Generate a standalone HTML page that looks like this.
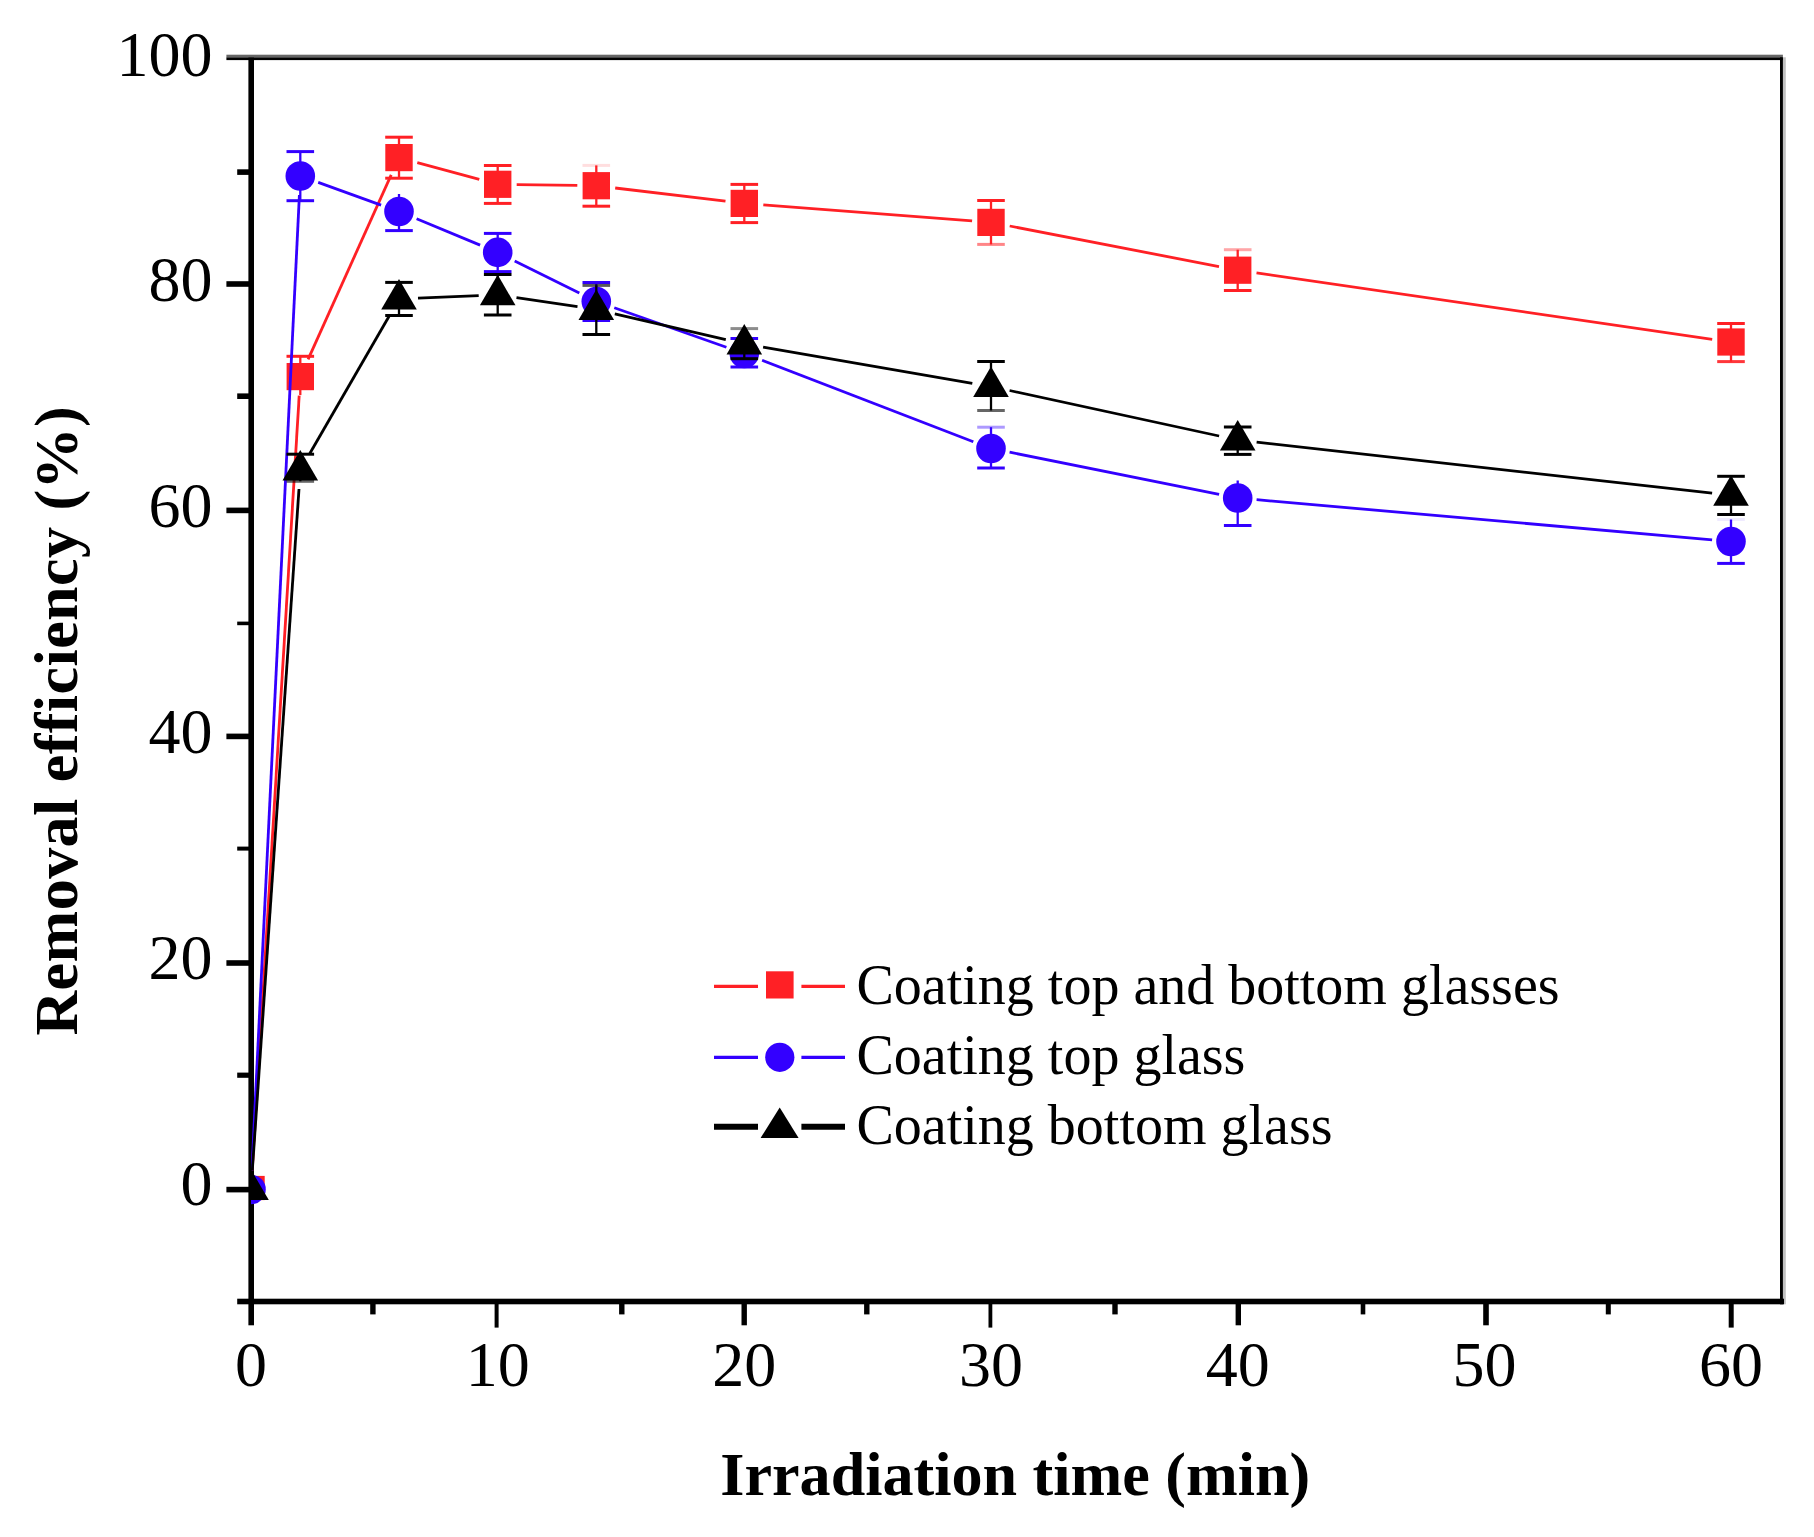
<!DOCTYPE html>
<html lang="en">
<head>
<meta charset="utf-8">
<title>Removal efficiency vs irradiation time</title>
<style>
html,body{margin:0;padding:0;background:#fff;}
body{width:1814px;height:1537px;overflow:hidden;}
svg{display:block;}
</style>
</head>
<body>
<svg width="1814" height="1537" viewBox="0 0 1814 1537">
<defs><clipPath id="plot"><rect x="251" y="40" width="1560" height="1280"/></clipPath></defs>
<rect width="1814" height="1537" fill="#fff"/>
<g><rect x="248.4" y="57.4" width="5.6" height="1267.9" fill="#000"/><rect x="226.4" y="54.7" width="1556.5" height="2.8" fill="#666"/><rect x="226.4" y="57.4" width="1556.5" height="2.7" fill="#000"/><rect x="1782.8" y="57.3" width="3" height="1247" fill="#c0c0c0"/><rect x="1780" y="57.3" width="2.9" height="1247" fill="#000"/><rect x="237.2" y="1298.7" width="1546.8" height="5.6" fill="#000"/><rect x="237.2" y="169.3" width="12.8" height="5.6" fill="#000"/><rect x="226.4" y="281.2" width="23.6" height="5.6" fill="#000"/><rect x="237.2" y="393.4" width="12.8" height="5.6" fill="#000"/><rect x="226.4" y="507.6" width="23.6" height="5.6" fill="#000"/><rect x="237.2" y="621.6" width="12.8" height="3.6" fill="#000"/><rect x="226.4" y="733.6" width="23.6" height="5.6" fill="#000"/><rect x="237.2" y="846.6" width="12.8" height="4" fill="#000"/><rect x="226.4" y="960.2" width="23.6" height="5.6" fill="#000"/><rect x="237.2" y="1072.6" width="12.8" height="5.2" fill="#000"/><rect x="226.4" y="1186.8" width="23.6" height="5.6" fill="#000"/><rect x="370.2" y="1300" width="5.4" height="14.4" fill="#000"/><rect x="494.6" y="1300" width="4" height="27.6" fill="#000"/><rect x="619.1" y="1300" width="5.4" height="14.4" fill="#000"/><rect x="741.5" y="1300" width="5.4" height="25.3" fill="#000"/><rect x="864.1" y="1300" width="5.4" height="14.4" fill="#000"/><rect x="988.5" y="1300" width="3.8" height="27.6" fill="#000"/><rect x="1112.3" y="1300" width="5.4" height="14.4" fill="#000"/><rect x="1235.6" y="1300" width="5.4" height="25.3" fill="#000"/><rect x="1360.7" y="1300" width="4.6" height="14.4" fill="#000"/><rect x="1483.2" y="1300" width="5.6" height="25.3" fill="#000"/><rect x="1605.8" y="1300" width="5" height="14.4" fill="#000"/><rect x="1728.7" y="1300" width="5" height="27.6" fill="#000"/></g>
<g font-family="'Liberation Serif', serif" font-size="64" fill="#000" text-anchor="end">
<text x="212.5" y="301.4">80</text>
<text x="212.5" y="527.3">60</text>
<text x="212.5" y="753.3">40</text>
<text x="212.5" y="979.2">20</text>
<text x="212.5" y="1205.1">0</text>
<text x="212.5" y="75.5">100</text>
</g>
<g font-family="'Liberation Serif', serif" font-size="64" fill="#000" text-anchor="middle">
<text x="251.0" y="1386">0</text>
<text x="497.7" y="1386">10</text>
<text x="744.3" y="1386">20</text>
<text x="991.0" y="1386">30</text>
<text x="1237.7" y="1386">40</text>
<text x="1484.4" y="1386">50</text>
<text x="1731.0" y="1386">60</text>
</g>
<text x="720.3" y="1494.5" font-family="'Liberation Serif', serif" font-weight="bold" font-size="62.1" fill="#000">Irradiation time (min)</text>
<text transform="translate(76.6,1035.6) rotate(-90)" font-family="'Liberation Serif', serif" font-weight="bold" font-size="62" letter-spacing="0.45" fill="#000">Removal efficiency (%)</text>
<g clip-path="url(#plot)">
<g stroke="#ff2025" stroke-width="2.8" fill="none"><line x1="252.2" y1="1170.5" x2="299.2" y2="395.6"/><line x1="308.1" y1="359.3" x2="391.2" y2="174.9"/><line x1="417.3" y1="162.6" x2="479.3" y2="179.3"/><line x1="516.7" y1="184.6" x2="577.3" y2="185.4"/><line x1="615.2" y1="188.0" x2="725.5" y2="201.1"/><line x1="763.3" y1="204.9" x2="972.1" y2="220.9"/><line x1="1009.7" y1="226.0" x2="1219.0" y2="266.6"/><line x1="1256.5" y1="272.9" x2="1712.2" y2="339.3"/></g>
<g stroke="#ff2025" fill="none"><line x1="300.3" y1="356.3" x2="300.3" y2="395.1" stroke-width="2.3"/><line x1="286.5" y1="356.3" x2="314.1" y2="356.3" stroke-width="3"/><line x1="399.0" y1="137.2" x2="399.0" y2="178.2" stroke-width="2.3"/><line x1="385.2" y1="137.2" x2="412.8" y2="137.2" stroke-width="3"/><line x1="385.2" y1="178.2" x2="412.8" y2="178.2" stroke-width="3"/><line x1="497.7" y1="165.5" x2="497.7" y2="203.4" stroke-width="2.3"/><line x1="483.9" y1="165.5" x2="511.5" y2="165.5" stroke-width="3"/><line x1="483.9" y1="203.4" x2="511.5" y2="203.4" stroke-width="3"/><line x1="596.3" y1="165.4" x2="596.3" y2="206.2" stroke-width="2.3"/><line x1="582.5" y1="165.4" x2="610.1" y2="165.4" stroke-width="3" stroke-opacity="0.15"/><line x1="582.5" y1="206.2" x2="610.1" y2="206.2" stroke-width="3"/><line x1="744.3" y1="184.4" x2="744.3" y2="222.6" stroke-width="2.3"/><line x1="730.5" y1="184.4" x2="758.1" y2="184.4" stroke-width="3"/><line x1="730.5" y1="222.6" x2="758.1" y2="222.6" stroke-width="3"/><line x1="991.0" y1="200.5" x2="991.0" y2="244.4" stroke-width="2.3"/><line x1="977.2" y1="200.5" x2="1004.8" y2="200.5" stroke-width="3"/><line x1="977.2" y1="244.4" x2="1004.8" y2="244.4" stroke-width="3" stroke-opacity="0.55"/><line x1="1237.7" y1="249.7" x2="1237.7" y2="290.5" stroke-width="2.3"/><line x1="1223.9" y1="249.7" x2="1251.5" y2="249.7" stroke-width="3" stroke-opacity="0.4"/><line x1="1223.9" y1="290.5" x2="1251.5" y2="290.5" stroke-width="3"/><line x1="1731.0" y1="323.5" x2="1731.0" y2="361.6" stroke-width="2.3"/><line x1="1717.2" y1="323.5" x2="1744.8" y2="323.5" stroke-width="3"/><line x1="1717.2" y1="361.6" x2="1744.8" y2="361.6" stroke-width="3" stroke-opacity="0.9"/></g>
<g fill="#ff2025"><rect x="237.3" y="1175.9" width="27.4" height="24.2"/><rect x="286.6" y="363.0" width="27.4" height="27.2"/><rect x="385.3" y="144.0" width="27.4" height="27.2"/><rect x="484.0" y="170.7" width="27.4" height="27.2"/><rect x="582.6" y="172.1" width="27.4" height="27.2"/><rect x="730.6" y="189.8" width="27.4" height="27.2"/><rect x="977.3" y="208.8" width="27.4" height="27.2"/><rect x="1224.0" y="256.6" width="27.4" height="27.2"/><rect x="1717.3" y="328.4" width="27.4" height="27.2"/></g>
<g stroke="#3300ff" stroke-width="2.8" fill="none"><line x1="251.9" y1="1170.5" x2="299.4" y2="195.0"/><line x1="318.2" y1="182.4" x2="381.1" y2="205.1"/><line x1="416.6" y1="218.8" x2="480.1" y2="245.1"/><line x1="514.7" y1="260.9" x2="579.3" y2="293.0"/><line x1="614.3" y1="307.8" x2="726.4" y2="347.2"/><line x1="762.1" y1="360.3" x2="973.3" y2="441.7"/><line x1="1009.6" y1="452.2" x2="1219.1" y2="494.3"/><line x1="1256.6" y1="499.7" x2="1712.1" y2="539.8"/></g>
<g stroke="#3300ff" fill="none"><line x1="300.3" y1="151.6" x2="300.3" y2="200.7" stroke-width="2.3"/><line x1="286.5" y1="151.6" x2="314.1" y2="151.6" stroke-width="3"/><line x1="286.5" y1="200.7" x2="314.1" y2="200.7" stroke-width="3"/><line x1="399.0" y1="194.0" x2="399.0" y2="230.6" stroke-width="2.3"/><line x1="385.2" y1="230.6" x2="412.8" y2="230.6" stroke-width="3"/><line x1="497.7" y1="233.4" x2="497.7" y2="271.6" stroke-width="2.3"/><line x1="483.9" y1="233.4" x2="511.5" y2="233.4" stroke-width="3"/><line x1="483.9" y1="271.6" x2="511.5" y2="271.6" stroke-width="3"/><line x1="596.3" y1="282.5" x2="596.3" y2="320.5" stroke-width="2.3"/><line x1="582.5" y1="282.5" x2="610.1" y2="282.5" stroke-width="3"/><line x1="582.5" y1="320.5" x2="610.1" y2="320.5" stroke-width="3"/><line x1="744.3" y1="338.5" x2="744.3" y2="367.0" stroke-width="2.3"/><line x1="730.5" y1="338.5" x2="758.1" y2="338.5" stroke-width="3"/><line x1="730.5" y1="367.0" x2="758.1" y2="367.0" stroke-width="3"/><line x1="991.0" y1="427.2" x2="991.0" y2="468.0" stroke-width="2.3"/><line x1="977.2" y1="427.2" x2="1004.8" y2="427.2" stroke-width="3" stroke-opacity="0.4"/><line x1="977.2" y1="468.0" x2="1004.8" y2="468.0" stroke-width="3"/><line x1="1237.7" y1="480.5" x2="1237.7" y2="525.5" stroke-width="2.3"/><line x1="1223.9" y1="525.5" x2="1251.5" y2="525.5" stroke-width="3"/><line x1="1731.0" y1="519.5" x2="1731.0" y2="563.4" stroke-width="2.3"/><line x1="1717.2" y1="519.5" x2="1744.8" y2="519.5" stroke-width="3" stroke-opacity="0.08"/><line x1="1717.2" y1="563.4" x2="1744.8" y2="563.4" stroke-width="3"/></g>
<g fill="#3300ff"><circle cx="251.0" cy="1189.5" r="14.8"/><circle cx="300.3" cy="176.0" r="14.8"/><circle cx="399.0" cy="211.5" r="14.8"/><circle cx="497.7" cy="252.4" r="14.8"/><circle cx="596.3" cy="301.5" r="14.8"/><circle cx="744.3" cy="353.5" r="14.8"/><circle cx="991.0" cy="448.5" r="14.8"/><circle cx="1237.7" cy="498.0" r="14.8"/><circle cx="1731.0" cy="541.5" r="14.8"/></g>
<g stroke="#000" stroke-width="2.8" fill="none"><line x1="252.3" y1="1170.5" x2="299.0" y2="489.0"/><line x1="309.8" y1="453.5" x2="389.5" y2="315.5"/><line x1="418.0" y1="298.2" x2="478.7" y2="295.6"/><line x1="516.5" y1="297.6" x2="577.5" y2="306.7"/><line x1="614.8" y1="313.8" x2="725.8" y2="339.7"/><line x1="763.1" y1="347.2" x2="972.3" y2="383.3"/><line x1="1009.6" y1="390.5" x2="1219.1" y2="436.0"/><line x1="1256.6" y1="442.1" x2="1712.1" y2="493.2"/></g>
<g stroke="#000" fill="none"><line x1="300.3" y1="454.2" x2="300.3" y2="481.3" stroke-width="2.3"/><line x1="286.5" y1="454.2" x2="314.1" y2="454.2" stroke-width="3"/><line x1="286.5" y1="481.3" x2="314.1" y2="481.3" stroke-width="3" stroke-opacity="0.6"/><line x1="399.0" y1="282.4" x2="399.0" y2="315.5" stroke-width="2.3"/><line x1="385.2" y1="282.4" x2="412.8" y2="282.4" stroke-width="3"/><line x1="385.2" y1="315.5" x2="412.8" y2="315.5" stroke-width="3"/><line x1="497.7" y1="274.5" x2="497.7" y2="315.0" stroke-width="2.3"/><line x1="483.9" y1="274.5" x2="511.5" y2="274.5" stroke-width="3"/><line x1="483.9" y1="315.0" x2="511.5" y2="315.0" stroke-width="3"/><line x1="596.3" y1="285.4" x2="596.3" y2="334.5" stroke-width="2.3"/><line x1="582.5" y1="285.4" x2="610.1" y2="285.4" stroke-width="3" stroke-opacity="0.65"/><line x1="582.5" y1="334.5" x2="610.1" y2="334.5" stroke-width="3"/><line x1="744.3" y1="328.6" x2="744.3" y2="358.7" stroke-width="2.3"/><line x1="730.5" y1="328.6" x2="758.1" y2="328.6" stroke-width="3" stroke-opacity="0.45"/><line x1="730.5" y1="358.7" x2="758.1" y2="358.7" stroke-width="3"/><line x1="991.0" y1="361.5" x2="991.0" y2="410.5" stroke-width="2.3"/><line x1="977.2" y1="361.5" x2="1004.8" y2="361.5" stroke-width="3"/><line x1="977.2" y1="410.5" x2="1004.8" y2="410.5" stroke-width="3" stroke-opacity="0.6"/><line x1="1237.7" y1="427.0" x2="1237.7" y2="454.4" stroke-width="2.3"/><line x1="1223.9" y1="427.0" x2="1251.5" y2="427.0" stroke-width="3"/><line x1="1223.9" y1="454.4" x2="1251.5" y2="454.4" stroke-width="3"/><line x1="1731.0" y1="476.3" x2="1731.0" y2="514.5" stroke-width="2.3"/><line x1="1717.2" y1="476.3" x2="1744.8" y2="476.3" stroke-width="3"/><line x1="1717.2" y1="514.5" x2="1744.8" y2="514.5" stroke-width="3"/></g>
<g fill="#000"><polygon points="251.0,1169.5 268.8,1200.0 233.2,1200.0"/><polygon points="300.3,450.0 318.1,480.5 282.5,480.5"/><polygon points="399.0,279.0 416.8,309.5 381.2,309.5"/><polygon points="497.7,274.8 515.5,305.3 479.9,305.3"/><polygon points="596.3,289.5 614.1,320.0 578.5,320.0"/><polygon points="744.3,324.0 762.1,354.5 726.5,354.5"/><polygon points="991.0,366.5 1008.8,397.0 973.2,397.0"/><polygon points="1237.7,420.0 1255.5,450.5 1219.9,450.5"/><polygon points="1731.0,475.3 1748.8,505.8 1713.2,505.8"/></g>
</g>
<g stroke-width="3.2" stroke="#ff2025"><line x1="714" y1="986.4" x2="758" y2="986.4"/><line x1="801.4" y1="986.4" x2="845" y2="986.4"/></g><rect x="766" y="971.3" width="27.6" height="27.2" fill="#ff2025"/>
<g stroke-width="3.2" stroke="#3300ff"><line x1="714" y1="1057.3" x2="758" y2="1057.3"/><line x1="801.4" y1="1057.3" x2="845" y2="1057.3"/></g><circle cx="779.8" cy="1057.3" r="14.6" fill="#3300ff"/>
<g stroke-width="6" stroke="#000"><line x1="714" y1="1126.8" x2="758" y2="1126.8"/><line x1="801.4" y1="1126.8" x2="845" y2="1126.8"/></g><polygon points="779.7,1107.6 798.6,1138 760.6,1138" fill="#000"/>
<g font-family="'Liberation Serif', serif" font-size="56" fill="#000">
<text x="856.5" y="1003.5">Coating top and bottom glasses</text>
<text x="856.5" y="1073.5">Coating top glass</text>
<text x="856.5" y="1143.8">Coating bottom glass</text>
</g>
</svg>
</body>
</html>
